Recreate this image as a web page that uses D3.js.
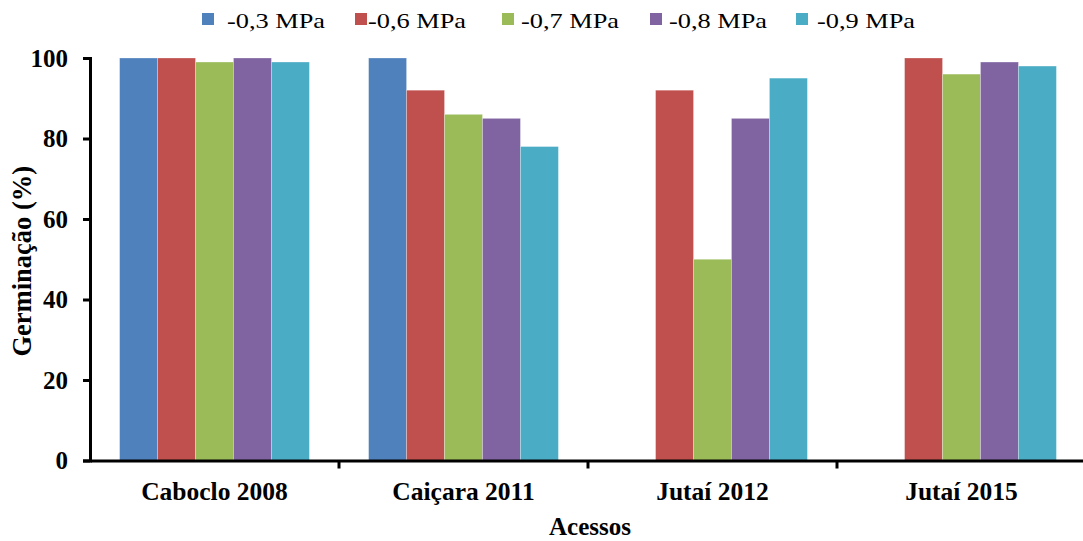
<!DOCTYPE html>
<html>
<head>
<meta charset="utf-8">
<script src="https://cdn.jsdelivr.net/npm/d3@7"></script>
<style>
  html, body { margin: 0; padding: 0; background: #fff; }
  svg { display: block; }
  text { font-family: "Liberation Serif", "Times New Roman", serif; fill: #000; }
</style>
</head>
<body>
<svg id="chart" width="1083" height="541"></svg>
<script>
// Germination (%) of each accession under five osmotic potentials
const categories = ["Caboclo 2008", "Caiçara 2011", "Jutaí 2012", "Jutaí 2015"];
const seriesNames = ["-0,3 MPa", "-0,6 MPa", "-0,7 MPa", "-0,8 MPa", "-0,9 MPa"];
const series03 = [100, 100, null, null];
const series06 = [100, 92, 92, 100];
const series07 = [99, 86, 50, 96];
const series08 = [100, 85, 85, 99];
const series09 = [99, 78, 95, 98];
const yTicks = [0, 20, 40, 60, 80, 100];
const colors = ["#4F81BD", "#C0504D", "#9BBB59", "#8064A2", "#4BACC6"];

const seriesValues = [series03, series06, series07, series08, series09];

const svg = d3.select("#chart");
const margin = { left: 90, right: -3, top: 58, bottom: 81 };
const W = 1083, H = 541;
const serif = "'Liberation Serif', 'Times New Roman', serif";

const x = d3.scaleBand().domain(categories).range([margin.left, W - margin.right]).paddingInner(0).paddingOuter(0);
const xs = d3.scaleBand().domain(seriesNames).range([0, x.bandwidth()]).paddingInner(0).paddingOuter(0.78);
const y = d3.scaleLinear().domain([0, 100]).range([H - margin.bottom + 0.5, margin.top]);
const color = d3.scaleOrdinal().domain(seriesNames).range(colors);

// bars
const groups = svg.append("g").selectAll("g")
  .data(categories)
  .join("g")
  .attr("transform", d => `translate(${x(d)},0)`);

groups.selectAll("rect")
  .data((c, ci) => seriesNames.map((s, si) => ({ s, v: seriesValues[si][ci] })).filter(d => d.v != null))
  .join("rect")
  .attr("x", d => xs(d.s))
  .attr("width", xs.bandwidth())
  .attr("y", d => y(d.v))
  .attr("height", d => y(0) - y(d.v))
  .attr("fill", d => color(d.s))
  .attr("stroke", "rgba(255,255,255,0.35)")
  .attr("stroke-width", 0.8);

// y axis
const yAxis = svg.append("g")
  .attr("transform", `translate(${margin.left},0)`)
  .call(d3.axisLeft(y).tickValues(yTicks).tickSize(7).tickPadding(15).tickFormat(d3.format("d")));
yAxis.attr("font-family", serif);
yAxis.select(".domain").attr("stroke", "#000").attr("stroke-width", 3);
yAxis.selectAll(".tick line").attr("stroke", "#000").attr("stroke-width", 3);
yAxis.selectAll(".tick text")
  .style("font-family", serif)
  .style("font-size", "25px").style("font-weight", "bold").attr("fill", "#000");

// x axis
const xAxis = svg.append("g")
  .attr("transform", `translate(0,${y(0)})`)
  .call(d3.axisBottom(x).tickSize(0));
xAxis.attr("font-family", serif);
xAxis.select(".domain").attr("stroke", "#000").attr("stroke-width", 3);
xAxis.selectAll(".tick text")
  .attr("y", 500 - y(0)).attr("dy", null)
  .style("font-family", serif)
  .style("font-size", "25.5px").style("font-weight", "bold").attr("fill", "#000");
// tick marks at group boundaries
xAxis.selectAll(".sep")
  .data(categories.slice(1).map(c => x(c)))
  .join("line")
  .attr("x1", d => d).attr("x2", d => d)
  .attr("y1", 0).attr("y2", 8)
  .attr("stroke", "#000").attr("stroke-width", 3);

// axis titles
svg.append("text")
  .attr("x", 590)
  .attr("y", 535)
  .attr("text-anchor", "middle")
  .style("font-size", "25px").style("font-weight", "bold")
  .text("Acessos");

svg.append("text")
  .attr("transform", `translate(31,${(y(0) + y(100)) / 2 + 2}) rotate(-90)`)
  .attr("text-anchor", "middle")
  .style("font-size", "26.5px").style("font-weight", "bold")
  .text("Germinação (%)");

// legend
const legendSquareX = [202, 355, 502, 650, 796];
const legendTextX = [227, 368, 521, 669, 817];
const legend = svg.append("g").selectAll("g")
  .data(seriesNames)
  .join("g");
legend.append("rect")
  .attr("x", (d, i) => legendSquareX[i]).attr("y", 13).attr("width", 12).attr("height", 12)
  .attr("fill", d => color(d));
legend.append("text")
  .attr("x", (d, i) => legendTextX[i]).attr("y", 28)
  .attr("textLength", 98)
  .attr("lengthAdjust", "spacingAndGlyphs")
  .style("font-size", "21px")
  .text(d => d);
</script>
</body>
</html>
